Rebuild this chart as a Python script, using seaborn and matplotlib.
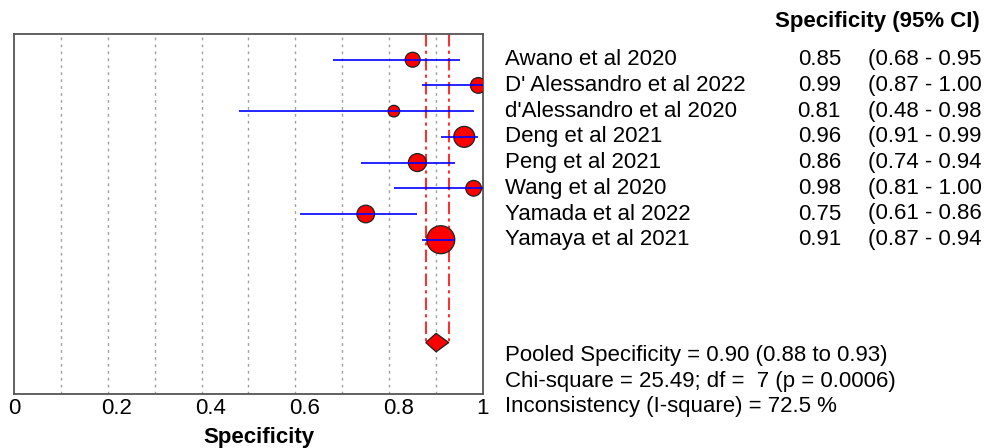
import matplotlib
matplotlib.use("Agg")
import matplotlib.pyplot as plt
import matplotlib.transforms as mtransforms
import seaborn as sns
import pandas as pd

# ---------------- data ----------------
studies = ["Awano et al 2020", "D' Alessandro et al 2022", "d'Alessandro et al 2020",
           "Deng et al 2021", "Peng et al 2021", "Wang et al 2020",
           "Yamada et al 2022", "Yamaya et al 2021"]
spec = [0.85, 0.99, 0.81, 0.96, 0.86, 0.98, 0.75, 0.91]
ci_lo = [0.68, 0.87, 0.48, 0.91, 0.74, 0.81, 0.61, 0.87]
ci_hi = [0.95, 1.00, 0.98, 0.99, 0.94, 1.00, 0.86, 0.94]
weight = [8.3, 9.1, 5.0, 16.2, 11.9, 9.1, 11.5, 28.9]   # relative study weight (%)
pooled = 0.90
pooled_lo = 0.878
pooled_hi = 0.927
summary_lines = ["Pooled Specificity = 0.90 (0.88 to 0.93)",
                 "Chi-square = 25.49; df =  7 (p = 0.0006)",
                 "Inconsistency (I-square) = 72.5 %"]
xticks = [0, 0.2, 0.4, 0.6, 0.8, 1]
xtick_labels = ["0", "0.2", "0.4", "0.6", "0.8", "1"]
grid_x = [0.1, 0.2, 0.3, 0.4, 0.5, 0.6, 0.7, 0.8, 0.9]

sns.set_style("white")
plt.rcParams["font.family"] = ["Liberation Sans", "DejaVu Sans"]
plt.rcParams["text.color"] = "black"
plt.rcParams["axes.labelcolor"] = "black"
FS = 16

df = pd.DataFrame({"study": studies, "spec": spec, "lo": ci_lo, "hi": ci_hi,
                   "weight": weight})
df["row"] = range(1, len(df) + 1)
pooled_row = len(df) + 4

fig = plt.figure(figsize=(9.85, 4.48), dpi=100)
ax = fig.add_axes([14 / 985, 1 - 394 / 448, 469 / 985, 360 / 448])

# grid
for gx in grid_x:
    ax.axvline(gx, color="#a0a0a0", lw=1.0, ls=(0, (2, 3)), zorder=0)

# pooled CI lines
ax.vlines([pooled_lo, pooled_hi], 0, pooled_row, color="#ff3030", lw=1.5,
          ls=(0, (6, 2, 1.5, 2)), zorder=1)

# study points
area_scale = 14.0
sns.scatterplot(data=df, x="spec", y="row", s=df["weight"] * area_scale,
                color="#ff0000", edgecolor="#222222", linewidth=0.9,
                marker="o", legend=False, ax=ax, zorder=3)
# CI lines over the points
ax.hlines(df["row"], df["lo"], df["hi"], color="#0000ff", lw=1.2, zorder=4)

# pooled diamond
h = 0.36
ax.fill([pooled_lo, pooled, pooled_hi, pooled],
        [pooled_row, pooled_row - h, pooled_row, pooled_row + h],
        facecolor="#ff0000", edgecolor="#222222", lw=0.9, zorder=3)

ax.set_xlim(0, 1)
ax.set_ylim(pooled_row + 2, 0)
ax.set_yticks([])
ax.set_ylabel("")
ax.set_xticks(xticks)
ax.set_xticklabels(xtick_labels, fontsize=FS)
ax.tick_params(axis="x", length=0, pad=3, colors="black")
for lab in ax.get_xticklabels()[1:-1]:
    lab.set_transform(lab.get_transform() +
                      mtransforms.ScaledTranslation(9 / 100, 0, fig.dpi_scale_trans))
ax.set_xlabel("Specificity", fontsize=FS, fontweight="bold")
ax.xaxis.set_label_coords(0.522, -0.093)
for sp in ax.spines.values():
    sp.set_color("#555555")
    sp.set_linewidth(1.3)
    sp.set_visible(True)

# text on the right
tr = mtransforms.blended_transform_factory(fig.transFigure, ax.transData)
fig.text(980 / 985, -0.5, "Specificity (95% CI)", transform=tr, ha="right",
         va="center", fontsize=FS, fontweight="bold")
for _, r in df.iterrows():
    fig.text(505 / 985, r["row"], r["study"], transform=tr, ha="left",
             va="center", fontsize=FS)
    fig.text(841 / 985, r["row"], f"{r['spec']:.2f}", transform=tr, ha="right",
             va="center", fontsize=FS)
    fig.text(868 / 985, r["row"], f"({r['lo']:.2f} - {r['hi']:.2f}", transform=tr,
             ha="left", va="center", fontsize=FS)
for i, line in enumerate(summary_lines):
    fig.text(505 / 985, pooled_row + 0.5 + i, line, transform=tr, ha="left",
             va="center", fontsize=FS)

fig.savefig("out.png", dpi=100)
